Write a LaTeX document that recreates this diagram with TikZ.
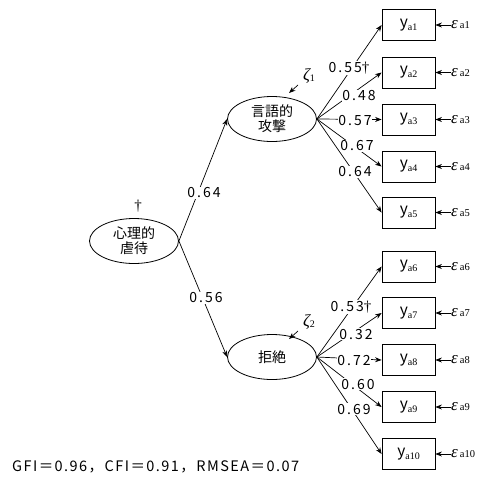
\documentclass[tikz,border=0pt]{standalone}
\usepackage{fontspec}
\setmainfont{Noto Sans CJK JP}
\newfontfamily\serifsubfont{Liberation Serif}
\usetikzlibrary{arrows.meta,shapes.geometric}
\newcommand\ylab[1]{y\raisebox{-0.35ex}{\serifsubfont\fontsize{10}{10}\selectfont a#1}}
\newcommand\elab[1]{{\serifsubfont\itshape\fontsize{17}{17}\selectfont ε}\kern2pt{\serifsubfont\fontsize{10.5}{10}\selectfont a#1}}
\newcommand\zlabtxt[1]{{\serifsubfont\itshape\fontsize{17}{17}\selectfont ζ}{\serifsubfont\fontsize{10}{10}\selectfont\raisebox{-0.2ex}{#1}}}
\newcommand\dagsym{{\serifsubfont\fontsize{15}{15}\selectfont †}}
\begin{document}
\begin{tikzpicture}[x=1pt,y=-1pt,
  arr/.style={-{Stealth[length=6.5pt,width=5pt]}, line width=0.7pt},
  latent/.style={draw, ellipse, line width=0.8pt, minimum width=89pt, minimum height=45pt, inner sep=0pt, align=center, font=\fontsize{14}{15}\selectfont},
  obs/.style={draw, rectangle, line width=0.8pt, minimum width=53pt, minimum height=31pt, inner sep=0pt, font=\fontsize{15.5}{15}\selectfont},
  lab/.style={fill=white, inner sep=0.8pt, font=\fontsize{14}{14}\selectfont\addfontfeature{LetterSpace=14}},
  errlab/.style={anchor=west, inner sep=0pt, font=\fontsize{14}{14}\selectfont},
  zlab/.style={inner sep=0pt, font=\fontsize{14}{14}\selectfont}]
\useasboundingbox (0,0) rectangle (478,477);

% latent variables
\node[latent] (P) at (134,241) {心理的\\虐待};
\node[latent] (L1) at (272,119) {言語的\\攻撃};
\node[latent] (L2) at (272,357) {拒絶};
\node[zlab] (dag) at (138,206) {\dagsym};

% observed
\foreach \i/\yy in {1/25,2/72.5,3/119.5,4/166.5,5/212.5,6/266.5,7/313,8/360,9/407,10/454}{
  \node[obs] (y\i) at (408.5,\yy) {\ylab{\i}};
  \node[errlab] (e\i) at (451,\yy) {\elab{\i}};
  \draw[arr] (e\i.west) -- (y\i.east);
}

% structural paths
\draw[arr] (P.east) -- (L1.west);
\draw[arr] (P.east) -- (L2.west);
\node[lab] (m1) at (204,193) {0.64};
\node[lab] (m2) at (206,298) {0.56};

% loadings
\foreach \i in {1,...,5}{\draw[arr] (L1.east) -- (y\i.west);}
\foreach \i in {6,...,10}{\draw[arr] (L2.east) -- (y\i.west);}
\node[lab] (l1) at (349,68) {0.55\dagsym};
\node[lab] (l2) at (359,96) {0.48};
\node[lab] (l3) at (355,121) {0.57};
\node[lab] (l4) at (357,146) {0.67};
\node[lab] (l5) at (355,172) {0.64};
\node[lab] (l6) at (351,307) {0.53\dagsym};
\node[lab] (l7) at (356,334) {0.32};
\node[lab] (l8) at (354,360) {0.72};
\node[lab] (l9) at (358,384) {0.60};
\node[lab] (l10) at (354,409) {0.69};

% disturbances
\node[zlab] (z1) at (309,76) {\zlabtxt{1}};
\coordinate (z1a) at (298,85);
\coordinate (z1b) at (289,93);
\draw[arr] (z1a) -- (z1b);
\node[zlab] (z2) at (309,322) {\zlabtxt{2}};
\coordinate (z2a) at (298,331);
\coordinate (z2b) at (289,339);
\draw[arr] (z2a) -- (z2b);

% fit
\node[anchor=west, inner sep=0pt, font=\fontsize{14.5}{15}\selectfont\addfontfeature{LetterSpace=10}] (fit) at (12,467) {GFI＝0.96，CFI＝0.91，RMSEA＝0.07};
\end{tikzpicture}
\end{document}
